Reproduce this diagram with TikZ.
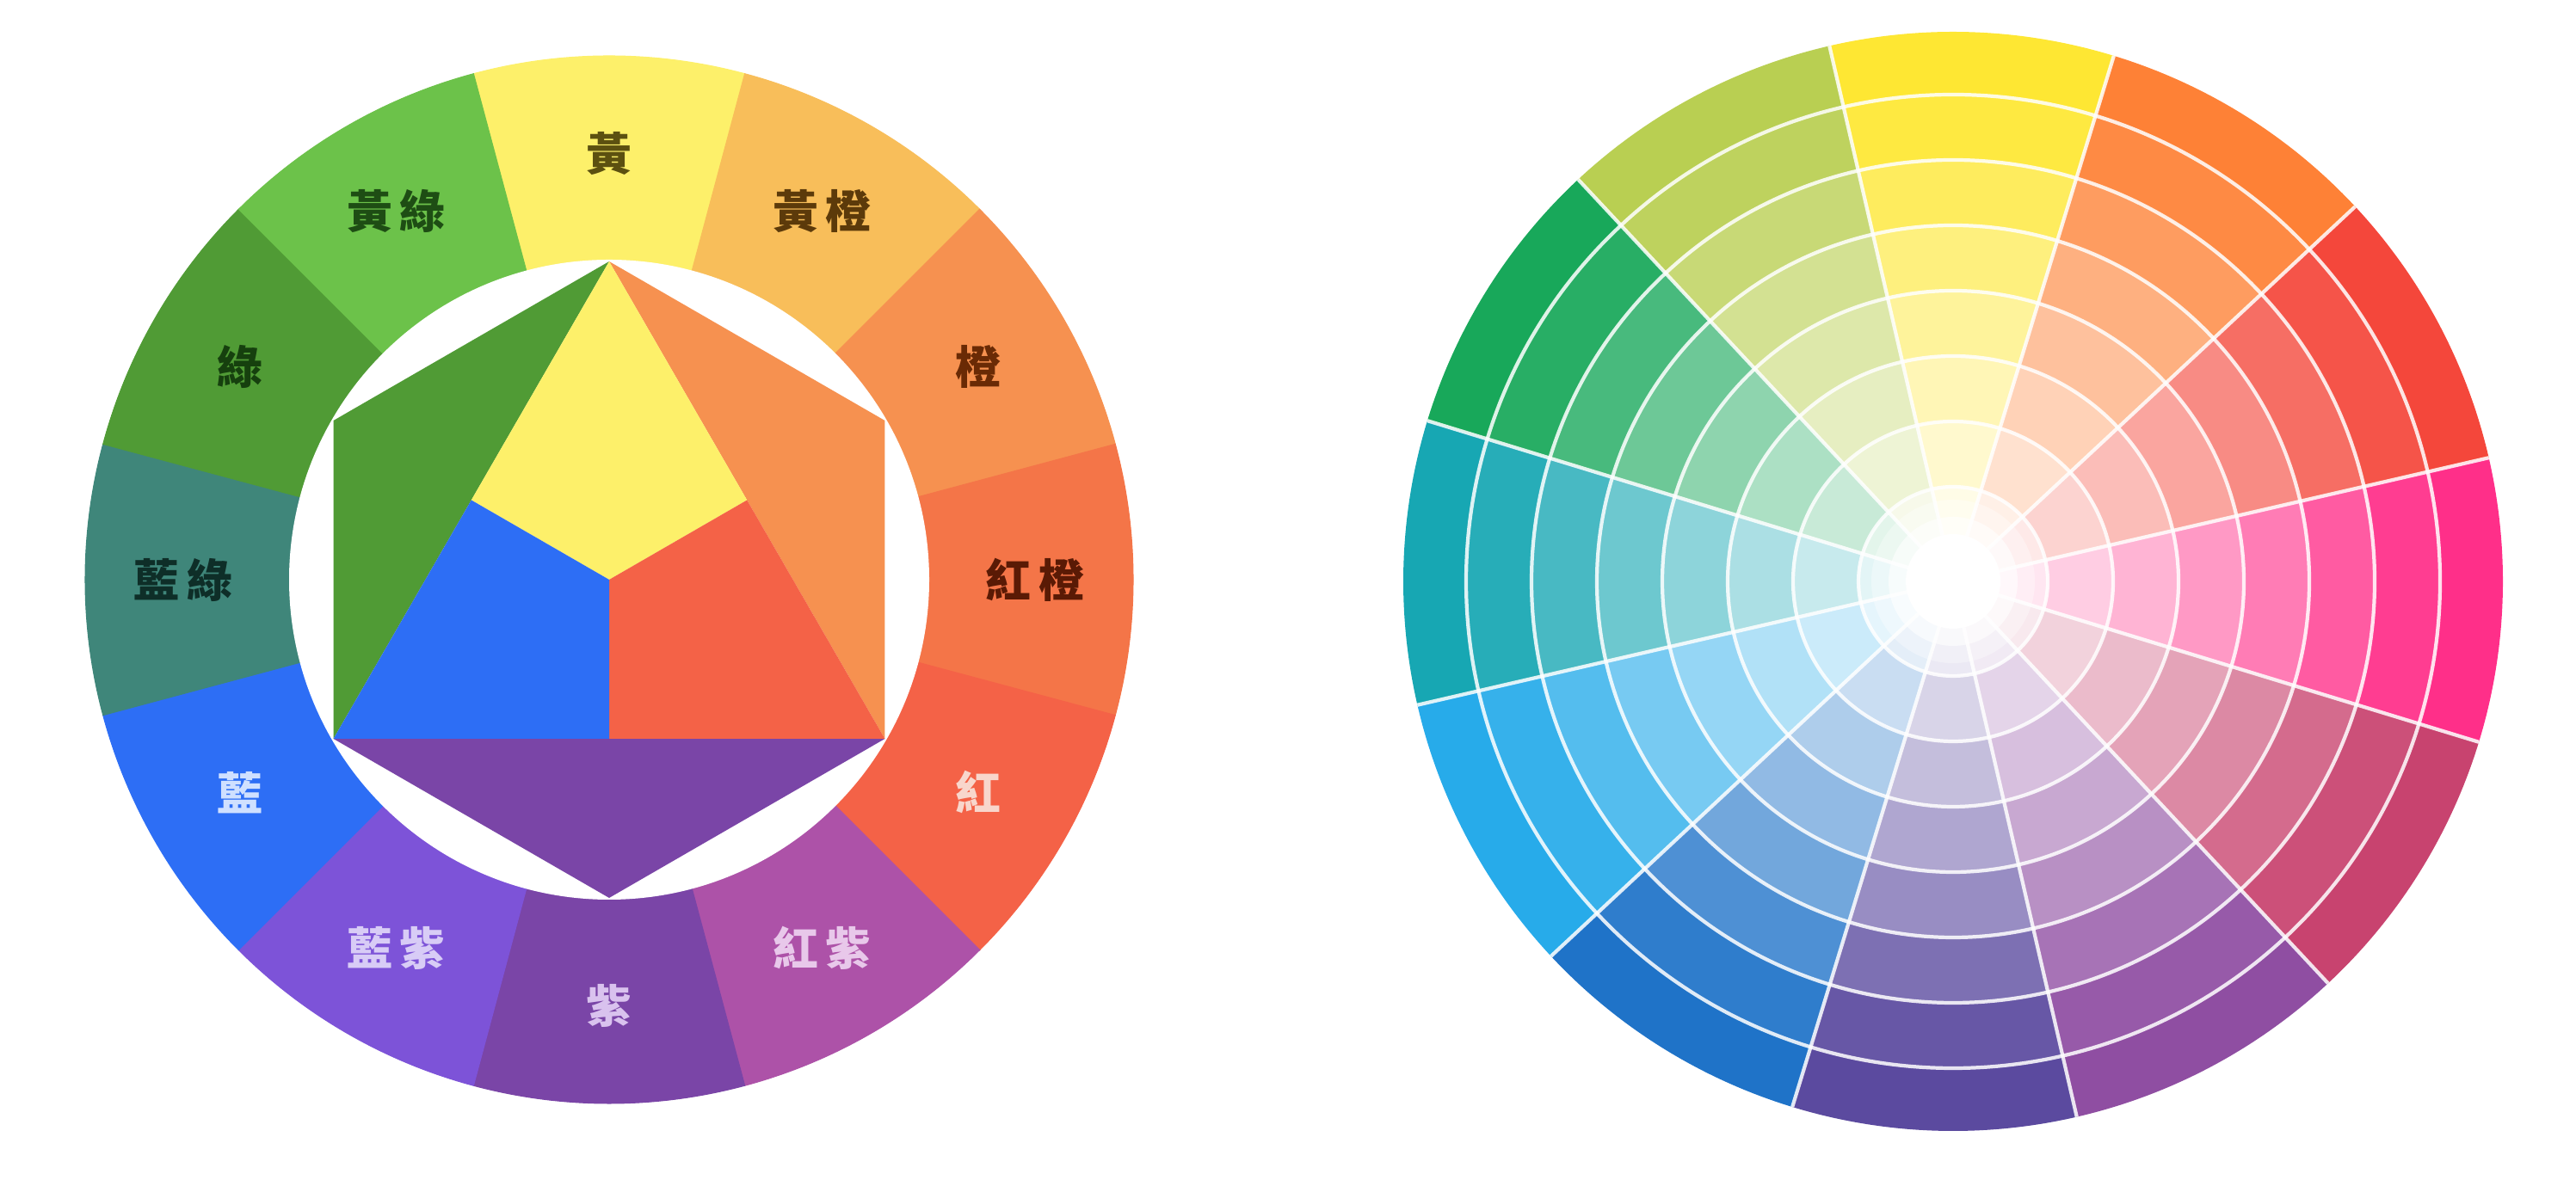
\documentclass[tikz,border=0pt]{standalone}
\usepackage{fontspec}
\newfontfamily\cjk{Noto Sans CJK TC}

% left wheel colours
\definecolor{cY}{RGB}{253,240,106}
\definecolor{cYO}{RGB}{248,190,90}
\definecolor{cO}{RGB}{246,145,80}
\definecolor{cRO}{RGB}{244,117,72}
\definecolor{cR}{RGB}{244,98,71}
\definecolor{cRV}{RGB}{173,82,168}
\definecolor{cV}{RGB}{122,69,167}
\definecolor{cBV}{RGB}{125,83,216}
\definecolor{cB}{RGB}{45,110,245}
\definecolor{cBG}{RGB}{63,134,122}
\definecolor{cG}{RGB}{80,155,53}
\definecolor{cYG}{RGB}{108,194,74}
% label colours
\definecolor{tY}{RGB}{92,80,16}
\definecolor{tYO}{RGB}{92,58,10}
\definecolor{tO}{RGB}{106,42,5}
\definecolor{tRO}{RGB}{90,26,5}
\definecolor{tR}{RGB}{248,214,204}
\definecolor{tRV}{RGB}{232,200,234}
\definecolor{tV}{RGB}{217,194,238}
\definecolor{tBV}{RGB}{216,204,246}
\definecolor{tB}{RGB}{207,224,255}
\definecolor{tBG}{RGB}{14,46,40}
\definecolor{tG}{RGB}{22,64,14}
\definecolor{tYG}{RGB}{30,77,20}
% right wheel colours
\definecolor{wY}{RGB}{254,231,51}
\definecolor{wO}{RGB}{254,129,54}
\definecolor{wR}{RGB}{244,71,59}
\definecolor{wP}{RGB}{255,47,137}
\definecolor{wRP}{RGB}{200,67,111}
\definecolor{wM}{RGB}{143,78,162}
\definecolor{wI}{RGB}{91,74,159}
\definecolor{wB}{RGB}{31,115,200}
\definecolor{wS}{RGB}{39,171,234}
\definecolor{wT}{RGB}{23,167,179}
\definecolor{wG}{RGB}{24,168,90}
\definecolor{wYG}{RGB}{185,207,82}

\begin{document}
\begin{tikzpicture}[
    lbl/.style={font=\cjk\bfseries\fontsize{15}{18}\selectfont, inner sep=0pt},
    ringline/.style={white, line width=1.2pt, opacity=0.85}]
  \useasboundingbox (0,0) rectangle (29.94,13.72);

  % ---------- left wheel ----------
  \begin{scope}[shift={(7.08,6.98)}]
    % twelve outer segments
    \foreach \a/\col in {90/cY, 60/cYO, 30/cO, 0/cRO, -30/cR, -60/cRV,
                         -90/cV, -120/cBV, -150/cB, 180/cBG, 150/cG, 120/cYG}
      \fill[\col, draw=\col, line width=0.3pt] (0,0) -- (\a-15:6.09)
        arc[start angle=\a-15, end angle=\a+15, radius=6.09] -- cycle;
    \fill[white] (0,0) circle (3.72);

    % hexagon corners and mid points
    \coordinate (o) at (0,0);
    \coordinate (h90) at (90:3.70);
    \coordinate (h30) at (30:3.70);
    \coordinate (hm30) at (-30:3.70);
    \coordinate (hm90) at (-90:3.70);
    \coordinate (h210) at (210:3.70);
    \coordinate (h150) at (150:3.70);
    \coordinate (m30) at (30:1.85);
    \coordinate (m150) at (150:1.85);
    \coordinate (mm90) at (-90:1.85);

    % secondary triangles
    \fill[cG] (h90) -- (h150) -- (h210) -- cycle;
    \fill[cO] (h90) -- (h30) -- (hm30) -- cycle;
    \fill[cV] (h210) -- (hm90) -- (hm30) -- cycle;
    % primary triangle
    \fill[cY] (h90) -- (m30) -- (o) -- (m150) -- cycle;
    \fill[cR] (hm30) -- (mm90) -- (o) -- (m30) -- cycle;
    \fill[cB] (h210) -- (m150) -- (o) -- (mm90) -- cycle;

    % segment names
    \node[lbl, text=tY] (yel) at (90:4.95) {黃};
    \node[lbl, text=tYO] (yelor) at (60:4.95) {黃\,橙};
    \node[lbl, text=tO] (ora) at (30:4.95) {橙};
    \node[lbl, text=tRO] (redor) at (0:4.95) {紅\,橙};
    \node[lbl, text=tR] (red) at (-30:4.95) {紅};
    \node[lbl, text=tRV] (redvi) at (-60:4.95) {紅\,紫};
    \node[lbl, text=tV] (vio) at (-90:4.95) {紫};
    \node[lbl, text=tBV] (bluvi) at (-120:4.95) {藍\,紫};
    \node[lbl, text=tB] (blu) at (-150:4.95) {藍};
    \node[lbl, text=tBG] (blugr) at (180:4.95) {藍\,綠};
    \node[lbl, text=tG] (gre) at (150:4.95) {綠};
    \node[lbl, text=tYG] (yelgr) at (120:4.95) {黃\,綠};
  \end{scope}

  % ---------- right wheel ----------
  \begin{scope}[shift={(22.70,6.96)}]
    % tints from outside to centre
    \foreach \a/\col in {88/wY, 58/wO, 28/wR, -2/wP, -32/wRP, -62/wM,
                         -92/wI, -122/wB, -152/wS, 178/wT, 148/wG, 118/wYG}
      \foreach \rin/\rout/\p in {5.66/6.39/100, 4.90/5.66/93, 4.14/4.90/79,
                                 3.38/4.14/63, 2.62/3.38/49, 1.86/2.62/36,
                                 1.10/1.86/24, 0.30/1.10/12}
        \fill[\col!\p!white] (\a-15:\rin) -- (\a-15:\rout)
          arc[start angle=\a-15, end angle=\a+15, radius=\rout]
          -- (\a+15:\rin)
          arc[start angle=\a+15, end angle=\a-15, radius=\rin] -- cycle;

    % white rings and spokes
    \foreach \r in {1.10, 1.86, 2.62, 3.38, 4.14, 4.90, 5.66}
      \draw[ringline] (0,0) circle (\r);
    \foreach \a in {73, 43, 13, -17, -47, -77, -107, -137, -167, 163, 133, 103}
      \draw[ringline] (\a:0.4) -- (\a:6.39);

    % bright centre
    \fill[white, opacity=0.35] (0,0) circle (0.95);
    \fill[white, opacity=0.6] (0,0) circle (0.75);
    \fill[white] (0,0) circle (0.55);
  \end{scope}
\end{tikzpicture}
\end{document}
